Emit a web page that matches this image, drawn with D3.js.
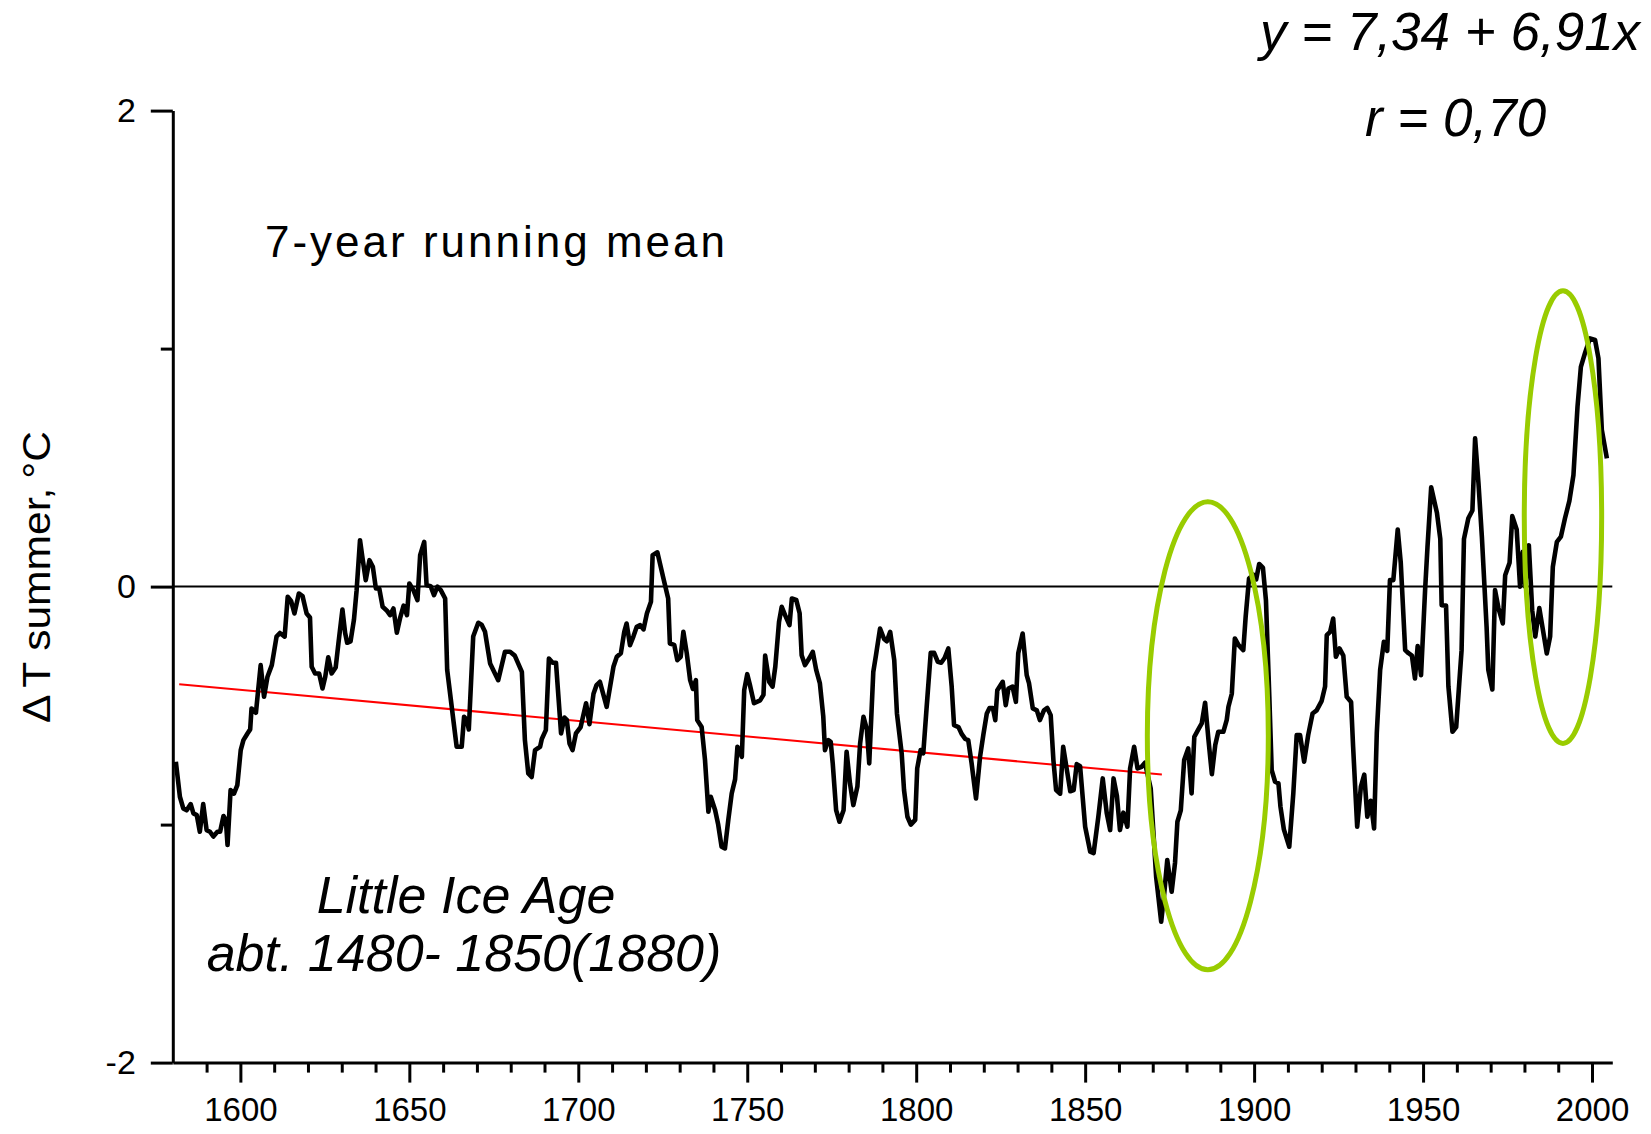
<!DOCTYPE html>
<html><head><meta charset="utf-8">
<script src="https://cdn.jsdelivr.net/npm/d3@7"></script>
<style>
body{margin:0;background:#fff;}
svg{display:block;background:#fff;}
text{font-family:"Liberation Sans",Arial,Helvetica,sans-serif;fill:#000;}
</style>
</head><body>
<svg id="chart" width="1651" height="1134"></svg>
<script>
// ---- data ----
const years = [
1580.9,1582.1,1583.1,1584.1,1585.3,1586.1,1587.1,1588.0,1589.0,1590.0,1591.0,1592.0,1593.2,1594.0,1595.0,1595.7,1596.2,1597.1,1598.1,1599.1,
1600.1,1600.9,1602.1,1602.9,1603.3,1604.6,1606.0,1607.0,1608.0,1609.3,1610.7,1611.7,1613.1,1614.0,1615.0,1616.0,1617.3,1618.4,1619.6,1620.6,
1621.1,1622.1,1623.3,1624.3,1625.1,1626.0,1627.0,1628.2,1629.0,1630.2,1631.0,1631.6,1632.6,1633.6,1634.4,1635.4,1636.1,1637.1,1638.2,1639.2,
1640.1,1641.1,1642.1,1643.3,1644.3,1645.3,1646.3,1647.3,1648.3,1649.3,1650.0,1651.2,1652.4,1653.2,1654.4,1655.1,1656.3,1657.3,1658.3,1659.3,
1660.6,1661.2,1662.5,1664.0,1665.5,1666.2,1667.0,1667.6,1668.9,1670.4,1671.4,1672.4,1673.9,1676.3,1678.3,1679.8,1681.2,1683.3,1684.2,1685.2,
1686.2,1687.2,1688.7,1689.2,1690.4,1691.3,1692.4,1693.4,1694.9,1695.9,1696.6,1697.4,1698.3,1699.3,1700.7,1702.3,1703.3,1704.5,1705.4,1706.4,
1708.4,1710.4,1711.4,1712.6,1713.6,1714.3,1715.3,1716.3,1717.3,1718.3,1719.3,1720.3,1721.5,1722.0,1723.4,1725.2,1726.6,1727.1,1728.4,1729.3,
1730.3,1731.1,1732.1,1733.1,1733.9,1734.8,1735.2,1736.5,1737.5,1738.5,1739.2,1740.5,1741.4,1742.4,1743.4,1744.4,1745.4,1746.4,1747.1,1748.4,
1749.1,1750.0,1750.8,1752.0,1753.8,1754.8,1755.3,1756.5,1757.5,1758.3,1759.4,1760.2,1761.2,1762.5,1763.2,1764.5,1765.5,1766.1,1767.1,1768.4,
1769.4,1770.4,1771.5,1772.5,1773.0,1774.0,1774.7,1775.3,1776.3,1777.3,1778.5,1779.4,1780.4,1781.4,1782.6,1783.4,1784.4,1785.4,1786.1,1787.3,
1788.1,1789.3,1790.5,1791.3,1792.3,1793.5,1794.3,1795.7,1796.4,1797.4,1798.4,1799.7,1800.3,1801.3,1802.1,1803.1,1804.3,1805.3,1806.4,1807.4,
1808.4,1809.5,1810.5,1811.2,1812.5,1813.5,1814.5,1815.4,1816.4,1817.7,1818.9,1819.9,1820.9,1821.7,1822.7,1823.4,1824.0,1825.6,1826.5,1827.3,
1828.5,1829.5,1830.2,1831.5,1832.7,1833.4,1834.5,1835.7,1836.6,1837.8,1838.8,1839.8,1840.6,1841.4,1842.6,1843.5,1844.7,1845.6,1846.6,1847.5,
1848.5,1850.0,1851.5,1852.5,1853.9,1855.2,1856.4,1857.4,1858.4,1859.4,1860.3,1861.3,1862.5,1863.3,1864.5,1865.5,1866.7,1867.7,1869.4,1871.0,
1872.5,1873.4,1874.3,1875.6,1876.6,1877.3,1878.3,1879.3,1880.5,1881.5,1882.3,1883.5,1884.5,1885.5,1886.5,1887.5,1888.5,1889.4,1890.9,1891.9,
1892.4,1893.4,1894.3,1895.4,1896.8,1897.5,1898.5,1899.8,1900.6,1901.5,1902.6,1903.5,1904.5,1905.2,1906.2,1907.2,1907.8,1908.8,1910.4,1911.6,
1912.6,1913.6,1914.8,1916.0,1917.3,1918.5,1920.0,1921.0,1921.5,1922.5,1923.4,1924.2,1925.3,1926.4,1927.4,1928.7,1929.3,1930.5,1931.6,1932.6,
1933.5,1934.5,1935.5,1936.3,1937.3,1938.4,1939.4,1940.2,1941.2,1942.5,1943.4,1944.7,1945.7,1946.7,1947.6,1948.4,1949.4,1950.6,1951.3,1952.4,
1954.1,1955.1,1955.5,1956.8,1957.5,1958.7,1959.8,1960.7,1961.4,1962.1,1963.4,1964.6,1965.4,1966.4,1967.4,1968.8,1969.3,1970.5,1971.3,1972.3,
1973.6,1974.3,1975.6,1976.4,1977.7,1978.7,1979.5,1980.2,1981.3,1982.3,1983.2,1984.4,1985.8,1986.6,1987.6,1988.4,1989.6,1990.8,1992.0,1993.3,
1994.5,1995.7,1996.7,1998.0,1999.4,2000.9,2001.9,2002.9,2004.4
];
const dT = [
-0.736,-0.883,-0.932,-0.94,-0.914,-0.953,-0.96,-1.03,-0.914,-1.023,-1.03,-1.05,-1.03,-1.03,-0.964,-0.98,-1.086,-0.855,-0.87,-0.834,
-0.687,-0.645,-0.617,-0.60,-0.512,-0.53,-0.33,-0.463,-0.38,-0.33,-0.21,-0.195,-0.21,-0.043,-0.06,-0.113,-0.029,-0.04,-0.113,-0.13,
-0.337,-0.365,-0.365,-0.428,-0.38,-0.297,-0.365,-0.34,-0.24,-0.096,-0.195,-0.236,-0.23,-0.14,-0.015,0.195,0.124,0.027,0.111,0.083,
-0.008,-0.008,-0.085,-0.1,-0.12,-0.092,-0.194,-0.13,-0.08,-0.12,0.013,-0.015,-0.057,0.132,0.188,0.006,0.002,-0.036,0.0,-0.015,
-0.05,-0.35,-0.5,-0.673,-0.673,-0.547,-0.56,-0.6,-0.21,-0.152,-0.16,-0.19,-0.323,-0.393,-0.274,-0.274,-0.29,-0.358,-0.645,-0.785,
-0.80,-0.687,-0.673,-0.64,-0.603,-0.302,-0.32,-0.32,-0.617,-0.55,-0.56,-0.659,-0.687,-0.617,-0.59,-0.49,-0.578,-0.45,-0.414,-0.40,
-0.505,-0.337,-0.295,-0.28,-0.19,-0.155,-0.246,-0.21,-0.169,-0.162,-0.18,-0.113,-0.064,0.132,0.144,0.034,-0.05,-0.239,-0.245,-0.309,
-0.295,-0.19,-0.28,-0.393,-0.43,-0.393,-0.561,-0.59,-0.729,-0.946,-0.883,-0.94,-1.0,-1.093,-1.10,-0.98,-0.869,-0.81,-0.673,-0.715,
-0.435,-0.368,-0.414,-0.49,-0.478,-0.455,-0.29,-0.40,-0.42,-0.336,-0.148,-0.085,-0.12,-0.162,-0.05,-0.056,-0.112,-0.288,-0.33,-0.30,
-0.274,-0.35,-0.407,-0.546,-0.687,-0.645,-0.652,-0.743,-0.939,-0.988,-0.94,-0.694,-0.827,-0.918,-0.84,-0.659,-0.547,-0.6,-0.743,-0.358,
-0.288,-0.176,-0.22,-0.23,-0.19,-0.309,-0.533,-0.70,-0.855,-0.967,-1.0,-0.98,-0.764,-0.687,-0.70,-0.505,-0.278,-0.278,-0.316,-0.32,
-0.30,-0.26,-0.42,-0.582,-0.59,-0.62,-0.64,-0.645,-0.743,-0.89,-0.715,-0.62,-0.533,-0.51,-0.51,-0.561,-0.435,-0.40,-0.498,-0.428,
-0.42,-0.484,-0.28,-0.197,-0.372,-0.407,-0.512,-0.52,-0.561,-0.52,-0.51,-0.54,-0.729,-0.855,-0.87,-0.673,-0.78,-0.86,-0.855,-0.746,
-0.755,-1.009,-1.114,-1.12,-0.967,-0.806,-0.953,-1.023,-0.806,-0.88,-1.023,-0.95,-1.009,-0.764,-0.673,-0.764,-0.757,-0.74,-0.848,-1.219,
-1.408,-1.29,-1.149,-1.282,-1.16,-0.988,-0.94,-0.729,-0.68,-0.869,-0.631,-0.60,-0.575,-0.488,-0.645,-0.788,-0.666,-0.61,-0.61,-0.56,
-0.505,-0.45,-0.218,-0.246,-0.267,-0.126,0.034,0.05,0.03,0.095,0.08,-0.057,-0.463,-0.771,-0.82,-0.827,-0.925,-1.02,-1.093,-0.869,
-0.624,-0.624,-0.736,-0.624,-0.533,-0.52,-0.48,-0.42,-0.204,-0.19,-0.134,-0.295,-0.26,-0.29,-0.463,-0.485,-0.673,-1.009,-0.84,-0.79,
-0.967,-0.9,-1.016,-0.617,-0.35,-0.232,-0.27,0.027,0.027,0.24,0.1,-0.267,-0.28,-0.29,-0.386,-0.25,-0.372,-0.015,0.165,0.417,
0.31,0.2,-0.078,-0.08,-0.42,-0.61,-0.59,-0.407,-0.267,0.2,0.287,0.32,0.623,0.434,0.21,-0.169,-0.35,-0.432,-0.015,-0.09,
-0.155,0.048,0.1,0.296,0.24,0.0,0.146,0.0,0.174,-0.1,-0.21,-0.09,-0.21,-0.281,-0.21,0.083,0.188,0.21,0.287,0.36,
0.468,0.755,0.923,0.985,1.043,1.036,0.959,0.658,0.539
];
const trendYears = [1581.9, 1872.7];
const trendValues = [-0.41, -0.79];
const xLabelTicks = [1600, 1650, 1700, 1750, 1800, 1850, 1900, 1950, 2000];
const xMinorTicks = [1590, 1610, 1620, 1630, 1640, 1660, 1670, 1680, 1690, 1710, 1720, 1730, 1740, 1760, 1770, 1780, 1790,
                     1810, 1820, 1830, 1840, 1860, 1870, 1880, 1890, 1910, 1920, 1930, 1940, 1960, 1970, 1980, 1990];
const yLabelTicks = [-2, 0, 2];
const yMinorTicks = [-1, 1];
// highlighted periods (ellipses): centre year, centre value, half-width in years, half-height in °C
const ellipseYears = [1886.3, 1991.4];
const ellipseValues = [-0.627, 0.292];
const ellipseHalfYears = [17.9, 11.45];
const ellipseHalfValues = [0.983, 0.951];

// ---- drawing ----
const svg = d3.select("#chart");
const FONT = '"Liberation Sans", Arial, Helvetica, sans-serif';
const x = d3.scaleLinear().domain([1580, 2006]).range([172.8, 1612.3]);
const y = d3.scaleLinear().domain([-2, 2]).range([1062.6, 110.6]);

// zero line
svg.append("line")
  .attr("x1", x(1580)).attr("x2", x(2006))
  .attr("y1", y(0)).attr("y2", y(0))
  .attr("stroke", "#000").attr("stroke-width", 2);

// trend line
svg.append("line")
  .attr("x1", x(trendYears[0])).attr("x2", x(trendYears[1]))
  .attr("y1", y(trendValues[0])).attr("y2", y(trendValues[1]))
  .attr("stroke", "#ff0000").attr("stroke-width", 2);

// data line
const pts = years.map((yr, i) => [yr, dT[i]]);
svg.append("path")
  .datum(pts)
  .attr("fill", "none")
  .attr("stroke", "#000")
  .attr("stroke-width", 4.6)
  .attr("stroke-linejoin", "round")
  .attr("stroke-linecap", "butt")
  .attr("d", d3.line().x(d => x(d[0])).y(d => y(d[1])));

// ellipses
svg.selectAll("ellipse.hl")
  .data(ellipseYears.map((yr, i) => ({yr, v: ellipseValues[i], hy: ellipseHalfYears[i], hv: ellipseHalfValues[i]})))
  .join("ellipse")
  .attr("class", "hl")
  .attr("cx", d => x(d.yr))
  .attr("cy", d => y(d.v))
  .attr("rx", d => x(d.yr + d.hy) - x(d.yr))
  .attr("ry", d => y(d.v - d.hv) - y(d.v))
  .attr("fill", "none")
  .attr("stroke", "#99cc00")
  .attr("stroke-width", 5);

// x axis
const xAxisG = svg.append("g").attr("transform", `translate(0,${y(-2)})`);
xAxisG.append("g")
  .call(d3.axisBottom(x).tickValues(xMinorTicks).tickSize(10).tickSizeOuter(0).tickFormat(""))
  .call(g => g.select(".domain").remove());
xAxisG.append("g")
  .call(d3.axisBottom(x).tickValues(xLabelTicks).tickSize(20).tickSizeOuter(0).tickPadding(15).tickFormat(d => String(d)))
  .attr("font-size", 33).attr("font-family", FONT);
xAxisG.selectAll("line").attr("stroke", "#000").attr("stroke-width", 3);
xAxisG.selectAll(".domain").attr("stroke", "#000").attr("stroke-width", 3);

// y axis
const yAxisG = svg.append("g").attr("transform", `translate(${x(1580)},0)`);
yAxisG.append("g")
  .call(d3.axisLeft(y).tickValues(yMinorTicks).tickSize(12).tickSizeOuter(0).tickFormat(""))
  .call(g => g.select(".domain").remove());
yAxisG.append("g")
  .call(d3.axisLeft(y).tickValues(yLabelTicks).tickSize(22).tickSizeOuter(0).tickPadding(15).tickFormat(d => String(d)))
  .attr("font-size", 34).attr("font-family", FONT);
yAxisG.selectAll("line").attr("stroke", "#000").attr("stroke-width", 3);
yAxisG.selectAll(".domain").attr("stroke", "#000").attr("stroke-width", 3);

// y axis title
const yt = svg.append("text")
  .attr("transform", "translate(50,577) rotate(-90) scale(1.12,1)")
  .attr("text-anchor", "middle")
  .attr("font-size", 38);
yt.append("tspan").text("Δ");
yt.append("tspan").attr("dx", 6).text("T summer,");
yt.append("tspan").attr("dx", 8).text("°C");

// annotations
svg.append("text").attr("x", 265).attr("y", 257)
  .attr("font-size", 44).attr("letter-spacing", 3)
  .text("7-year running mean");

svg.append("text").attr("x", 466).attr("y", 913)
  .attr("font-size", 52).attr("font-style", "italic").attr("text-anchor", "middle")
  .text("Little Ice Age");
svg.append("text").attr("x", 464).attr("y", 971)
  .attr("font-size", 52).attr("font-style", "italic").attr("text-anchor", "middle")
  .text("abt. 1480- 1850(1880)");

svg.append("text").attr("x", 1260).attr("y", 50)
  .attr("font-size", 53).attr("font-style", "italic")
  .text("y = 7,34 + 6,91x");
svg.append("text").attr("x", 1365).attr("y", 136)
  .attr("font-size", 53).attr("font-style", "italic")
  .text("r = 0,70");
</script>
</body></html>
